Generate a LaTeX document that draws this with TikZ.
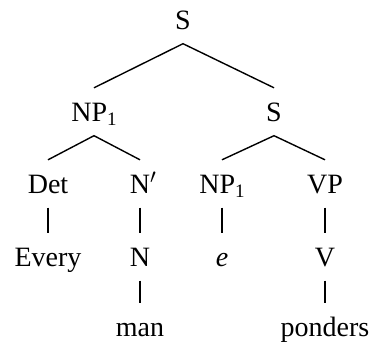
\documentclass[tikz,border=0pt]{standalone}
\usepackage{fontspec}
\setmainfont{Liberation Serif}
\newcommand{\subone}{\raisebox{-4pt}{\fontsize{19}{19}\selectfont 1}}
\begin{document}
\begin{tikzpicture}[x=1pt,y=-1pt,
  lab/.style={anchor=base, inner xsep=0pt, inner ysep=14.5pt, text height=18.5pt, text depth=0pt, font=\fontsize{28}{30}\selectfont},
  edge/.style={line width=1.4pt}]
\useasboundingbox (0,0) rectangle (372,349);
\node[lab] (s0) at (183,29) {S};
\node[lab] (np) at (94,121) {NP\subone};
\node[lab] (s1) at (274,121) {S};
\node[lab] (det) at (48,193) {Det};
\node[lab] (nb) at (140,193) {N\rlap{$'$}};
\node[lab] (np2) at (222,193) {NP\subone};
\node[lab] (vp) at (325,193) {VP};
\node[lab] (every) at (48,266) {Every};
\node[lab] (n) at (140,266) {N};
\node[lab] (e) at (222,266) {\textit{e}};
\node[lab] (v) at (325,266) {V};
\node[lab] (man) at (140,336) {man};
\node[lab] (ponders) at (325,336) {ponders};
\draw[edge] (np.north) -- (s0.south) -- (s1.north);
\draw[edge] (det.north) -- (np.south) -- (nb.north);
\draw[edge] (np2.north) -- (s1.south) -- (vp.north);
\draw[edge] (det.south) -- (every.north);
\draw[edge] (nb.south) -- (n.north);
\draw[edge] (np2.south) -- (e.north);
\draw[edge] (vp.south) -- (v.north);
\draw[edge] (n.south) -- (man.north);
\draw[edge] (v.south) -- (ponders.north);
\end{tikzpicture}
\end{document}
